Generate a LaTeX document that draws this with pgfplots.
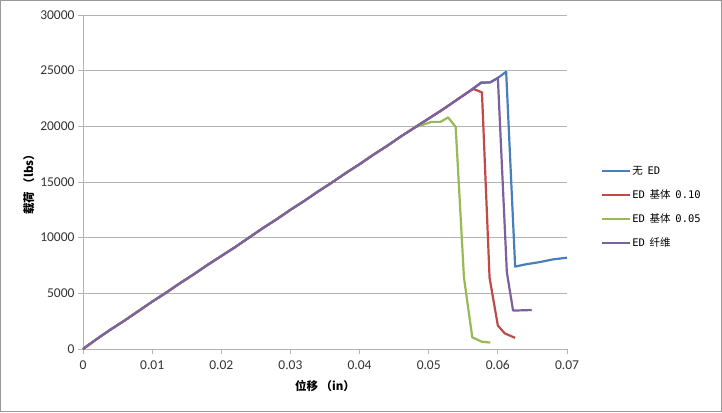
\documentclass[border=0pt]{standalone}
\usepackage{pgfplots}
\pgfplotsset{compat=1.18}
\usepackage{fontspec}
\setmainfont{Carlito}
\newfontfamily\cjk{Noto Sans CJK SC}
\newfontfamily\lmono{DejaVu Sans Mono}
\definecolor{cblue}{HTML}{4A7EBB}
\definecolor{cred}{HTML}{BE4B48}
\definecolor{cgreen}{HTML}{98B954}
\definecolor{cpurple}{HTML}{7D60A0}
\definecolor{gridc}{HTML}{B3B3B3}
\begin{document}
\begin{tikzpicture}
\useasboundingbox (0,0) rectangle (722pt,412pt);
\draw[color=gray!80, line width=1pt] (0.5pt,0.5pt) rectangle (721.5pt,411.5pt);
\begin{axis}[
  at={(83pt,63pt)}, anchor=south west,
  scale only axis, width=484pt, height=334pt,
  xmin=0, xmax=0.07, ymin=0, ymax=30000,
  xtick={0,0.01,...,0.07},
  xticklabels={0,0.01,0.02,0.03,0.04,0.05,0.06,0.07},
  ytick={0,5000,...,30000},
  scaled ticks=false,
  yticklabel style={/pgf/number format/.cd, fixed, set thousands separator={}},
  /pgf/number format/assume math mode=true,
  tick label style={font=\fontsize{13.5}{15}\selectfont, color=black!80},
  xticklabel style={yshift=-3pt},
  axis x line=bottom, axis y line=left,
  axis line style={gridc, -},
  tick style={gridc, line width=0.8pt},
  tick align=outside, major tick length=5pt,
  ymajorgrids, grid style={gridc, line width=0.8pt},
  xlabel={\cjk\bfseries 位移 （in）},
  ylabel={\cjk\bfseries 载荷 （lbs）},
  label style={font=\fontsize{11.5}{13}\selectfont},
  xlabel style={yshift=-4pt},
  ylabel style={yshift=-1pt},
  legend style={at={(1.064,0.56)}, anchor=north west, draw=none, fill=none,
    font=\fontsize{10.5}{12.5}\selectfont, row sep=10pt,
    nodes={inner sep=1pt, text height=9pt, text depth=3pt}},
  legend cell align=left,
  legend image code/.code={\draw[#1] (0pt,0pt) -- (28pt,0pt);},
  every axis plot/.append style={line width=2.2pt, line join=round},
  clip=false,
]
\addplot[cblue] coordinates {
(0,0) (0.002,900) (0.004,1750) (0.006,2550) (0.008,3400) (0.010,4250)
(0.012,5050) (0.014,5900) (0.016,6700) (0.018,7550) (0.020,8350)
(0.022,9150) (0.024,10000) (0.026,10850) (0.028,11650) (0.030,12500)
(0.032,13300) (0.034,14150) (0.036,14950) (0.038,15800) (0.040,16600)
(0.042,17450) (0.044,18250) (0.046,19100) (0.048,19900) (0.050,20700)
(0.052,21500) (0.054,22350) (0.056,23200) (0.0576,23900) (0.0589,23950)
(0.0600,24350) (0.0612,24900) (0.0625,7400) (0.064,7600) (0.066,7800)
(0.068,8050) (0.070,8200)};
\addlegendentry{{\cjk 无}\hspace{0.45em}{\lmono ED}}
\addplot[cred] coordinates {
(0,0) (0.002,900) (0.004,1750) (0.006,2550) (0.008,3400) (0.010,4250)
(0.012,5050) (0.014,5900) (0.016,6700) (0.018,7550) (0.020,8350)
(0.022,9150) (0.024,10000) (0.026,10850) (0.028,11650) (0.030,12500)
(0.032,13300) (0.034,14150) (0.036,14950) (0.038,15800) (0.040,16600)
(0.042,17450) (0.044,18250) (0.046,19100) (0.048,19900) (0.050,20700)
(0.052,21500) (0.054,22350) (0.056,23200) (0.0565,23350) (0.0577,23050)
(0.0588,6400) (0.0600,2100) (0.0610,1400) (0.0625,1000)};
\addlegendentry{{\lmono ED}\hspace{0.45em}{\cjk 基体}\hspace{0.45em}{\lmono 0.10}}
\addplot[cgreen] coordinates {
(0,0) (0.002,900) (0.004,1750) (0.006,2550) (0.008,3400) (0.010,4250)
(0.012,5050) (0.014,5900) (0.016,6700) (0.018,7550) (0.020,8350)
(0.022,9150) (0.024,10000) (0.026,10850) (0.028,11650) (0.030,12500)
(0.032,13300) (0.034,14150) (0.036,14950) (0.038,15800) (0.040,16600)
(0.042,17450) (0.044,18250) (0.046,19100) (0.048,19900) (0.0504,20400)
(0.0517,20400) (0.0528,20800) (0.0539,19950) (0.0551,6400) (0.0563,1050)
(0.0577,650) (0.0589,580)};
\addlegendentry{{\lmono ED}\hspace{0.45em}{\cjk 基体}\hspace{0.45em}{\lmono 0.05}}
\addplot[cpurple] coordinates {
(0,0) (0.002,900) (0.004,1750) (0.006,2550) (0.008,3400) (0.010,4250)
(0.012,5050) (0.014,5900) (0.016,6700) (0.018,7550) (0.020,8350)
(0.022,9150) (0.024,10000) (0.026,10850) (0.028,11650) (0.030,12500)
(0.032,13300) (0.034,14150) (0.036,14950) (0.038,15800) (0.040,16600)
(0.042,17450) (0.044,18250) (0.046,19100) (0.048,19900) (0.050,20700)
(0.052,21500) (0.054,22350) (0.056,23200) (0.0576,23950) (0.0589,23950)
(0.0600,24350) (0.0613,6900) (0.0622,3450) (0.0649,3500)};
\addlegendentry{{\lmono ED}\hspace{0.45em}{\cjk 纤维}}
\end{axis}
\end{tikzpicture}
\end{document}
